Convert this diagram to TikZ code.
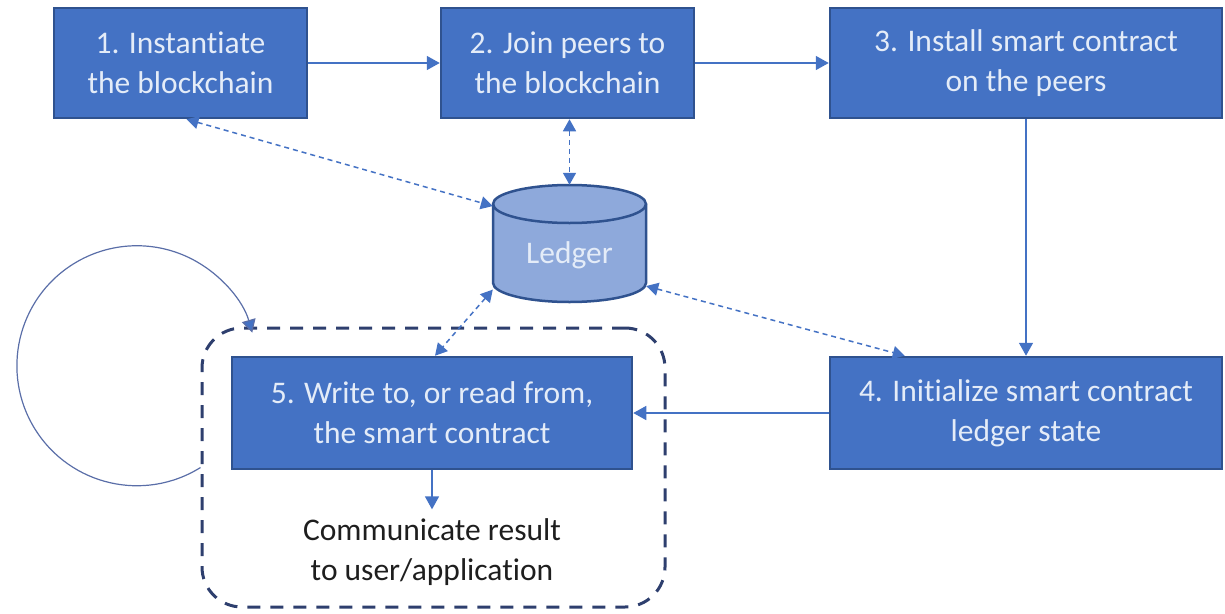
\documentclass[tikz,border=0pt]{standalone}
\usepackage{fontspec}
\setmainfont{Carlito}[Ligatures=NoCommon]
\usetikzlibrary{arrows.meta,calc}
\definecolor{boxfill}{HTML}{4472C4}
\definecolor{boxdraw}{HTML}{2F528F}
\definecolor{boxtext}{HTML}{E4ECF8}
\definecolor{conncol}{HTML}{4472C4}
\definecolor{ledgerfill}{HTML}{8EA9DB}
\definecolor{framecol}{HTML}{2E3F6E}
\definecolor{loopcol}{HTML}{5A6EA8}
\definecolor{commtext}{HTML}{1E1E1E}
\begin{document}
\begin{tikzpicture}[x=1pt,y=-1pt,
  stepbox/.style={draw=boxdraw, line width=2.5pt, fill=boxfill, text=boxtext,
    align=center, font=\fontsize{31.5}{40}\selectfont, minimum height=110pt, inner sep=0pt},
  conn/.style={draw=conncol, line width=1.5pt, -{Triangle[length=13pt,width=14pt]}},
  dconn/.style={draw=conncol, line width=1.5pt, dash pattern=on 5pt off 4pt,
    {Triangle[length=12pt,width=13pt]}-{Triangle[length=12pt,width=13pt]}},
  loopline/.style={draw=loopcol, line width=1.2pt, -{Triangle[length=13pt,width=14pt,fill=conncol]}},
  framebox/.style={draw=framecol, line width=3pt, dash pattern=on 13pt off 10pt,
    rounded corners=40pt, inner sep=0pt},
  ledgershape/.style={fill=ledgerfill, draw=boxdraw, line width=2.5pt},
  labeltext/.style={font=\fontsize{31.5}{40}\selectfont, align=center}
]
\useasboundingbox (0,0) rectangle (1225,613);

% dashed frame
\node[framebox, minimum width=463pt, minimum height=279pt] (frame) at (433.5,467.5) {};

% steps
\node[stepbox, minimum width=253pt] (b1) at (180.5,63) {1. Instantiate\\the blockchain};
\node[stepbox, minimum width=253pt] (b2) at (567.5,63) {2. Join peers to\\the blockchain};
\node[stepbox, minimum width=392pt] (b3) at (1026,63) {3. Install smart contract\\on the peers};
\node[stepbox, minimum width=392pt, minimum height=112pt] (b4) at (1026,413) {4. Initialize smart contract\\ledger state};
\node[stepbox, minimum width=400pt, minimum height=112pt] (b5) at (432,413) {5. Write to, or read from,\\the smart contract};

% ledger cylinder
\path[ledgershape] (493,204) -- (493,283)
  arc[start angle=180, end angle=360, x radius=76.5pt, y radius=19pt]
  -- (646,204)
  arc[start angle=0, end angle=180, x radius=76.5pt, y radius=19pt] -- cycle;
\draw[draw=boxdraw, line width=2.5pt] (493,204)
  arc[start angle=180, end angle=360, x radius=76.5pt, y radius=19pt];
\node[minimum width=153pt, minimum height=117pt, inner sep=0pt] (ledger) at (569.5,243.5) {};
\node[labeltext, text=boxtext] (ledgerlabel) at (569.5,255) {Ledger};

% result text
\node[labeltext, text=commtext, inner sep=9pt] (comm) at (432,552) {Communicate result\\to user/application};

% solid connectors
\draw[conn] (b1.east) -- (b2.west);
\draw[conn] (b2.east) -- (b3.west);
\draw[conn] (b3.south) -- (b4.north);
\draw[conn] (b4.west) -- (b5.east);
\draw[conn] (b5.south) -- (comm.north);

% dashed ledger links
\draw[dconn] ([xshift=6pt]b1.south) -- (ledger.154);
\draw[dconn] (b2.south -| ledger.north) -- (ledger.north);
\draw[dconn] (ledger.211) -- ([xshift=3pt]b5.north);
\draw[dconn] (ledger.331) -- ([xshift=76pt]b4.north west);

% loop
\draw[loopline] (frame.west) arc[start angle=-58, end angle=-344, radius=120pt];
\end{tikzpicture}
\end{document}
